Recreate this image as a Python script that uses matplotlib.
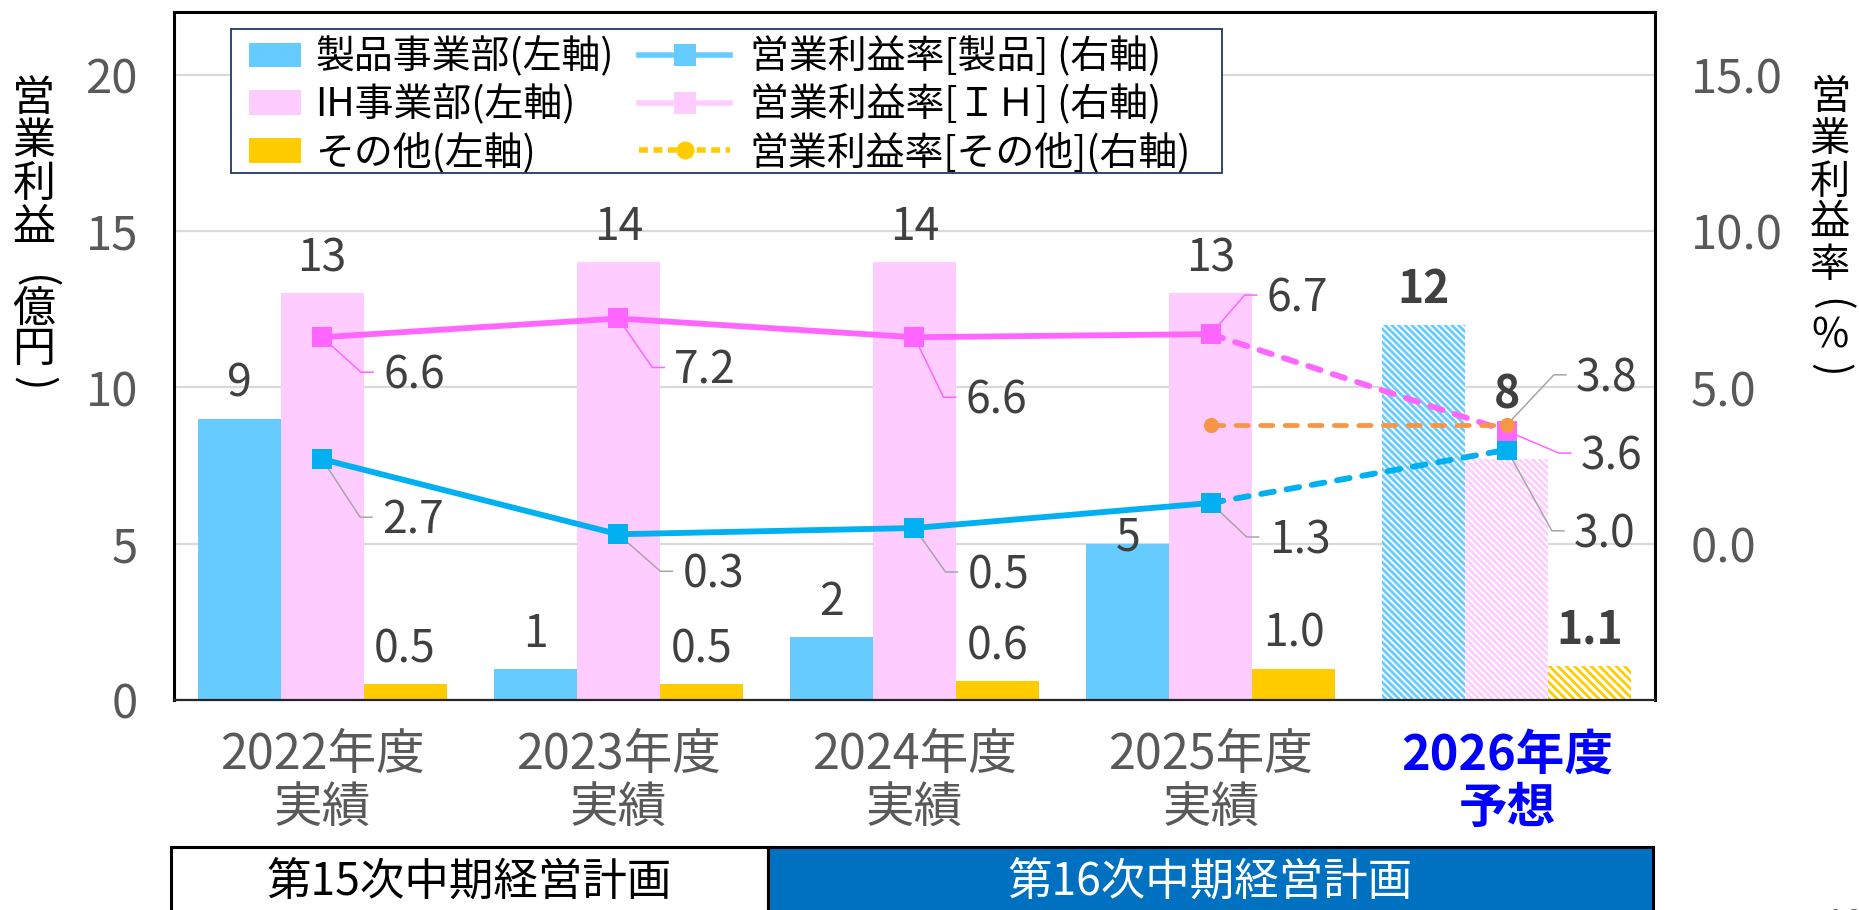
import numpy as np
import matplotlib
matplotlib.use("Agg")
import matplotlib.pyplot as plt
from matplotlib.patches import Patch, Rectangle
from matplotlib.lines import Line2D

plt.rcParams['font.family'] = ['Noto Sans CJK JP', 'DejaVu Sans']
plt.rcParams['hatch.linewidth'] = 2.0

# ---------------- data ----------------
years = ['2022年度\n実績', '2023年度\n実績', '2024年度\n実績', '2025年度\n実績', '2026年度\n予想']
seihin_profit = [9, 1, 2, 5, 12]
ih_profit = [13, 14, 14, 13, 7.7]
other_profit = [0.5, 0.5, 0.6, 1.0, 1.1]
seihin_rate = [2.7, 0.3, 0.5, 1.3, 3.0]
ih_rate = [6.6, 7.2, 6.6, 6.7, 3.6]
other_rate = [np.nan, np.nan, np.nan, 3.8, 3.8]
left_ticks = [0, 5, 10, 15, 20]
right_ticks = [0, 5, 10, 15]
bar_legend_labels = ['製品事業部(左軸)', 'IH事業部(左軸)', 'その他(左軸)']
line_legend_labels = ['営業利益率[製品] (右軸)', '営業利益率[ＩＨ] (右軸)', '営業利益率[その他](右軸)']
left_title = '営業利益(億円)'
right_title = '営業利益率(%)'
plan_labels = ['第15次中期経営計画', '第16次中期経営計画']

# ---------------- style ----------------
W, H, DPI = 1859, 910, 100
bar_colors = ['#66CCFF', '#FFCCFF', '#FFCC00']
line_colors = ['#00B0F0', '#FF66FF', '#F79646']
leader_colors = ['#A6A6A6', '#FF66FF', '#A6A6A6']
txt_col = '#404040'
tick_col = '#595959'
forecast = 4
bw = 0.28
bar_lab_off = [[22, 22, 22, -7, 22], [22, 22, 22, 22, 51], [22, 22, 22, 22, 22]]
seihin_off = [(60, 58), (64, 37), (53, 44), (58, 34), (67, 81)]
ih_off = [(61, 35), (56, 49), (51, 60), (56, -39), (74, 22)]
other_off = [None, None, None, None, (69, -50)]
left_title_y = [99, 142, 185, 228, 282, 310, 350, 383]
right_title_y = [98, 140, 182, 223, 265, 305, 336, 370]

fig = plt.figure(figsize=(W / DPI, H / DPI), dpi=DPI)
ax = fig.add_axes([174 / W, 1 - 700 / H, (1655 - 174) / W, (700 - 12) / H])
ax2 = ax.twinx()

x = np.arange(len(years))
ax.set_xlim(-0.5, len(years) - 0.5)
ax.set_ylim(0, 22)
ax2.set_ylim(-5, 17)

# ---------------- bars ----------------
series = [seihin_profit, ih_profit, other_profit]
hatches = ['\\' * 5, '\\' * 5, '\\' * 4]
for si, vals in enumerate(series):
    xs = x + (si - 1) * bw
    for i, v in enumerate(vals):
        if i == forecast:
            ax.bar(xs[i], v, bw, facecolor='white', edgecolor=bar_colors[si],
                   hatch=hatches[si], linewidth=0, zorder=2)
        else:
            ax.bar(xs[i], v, bw, color=bar_colors[si], linewidth=0, zorder=2)
        lab = f'{v:.0f}' if si < 2 else f'{v:.1f}'
        ax.annotate(lab, xy=(xs[i], v), xytext=(0, bar_lab_off[si][i]),
                    textcoords='offset pixels', ha='center', va='baseline',
                    fontsize=32, color=txt_col,
                    fontweight='bold' if i == forecast else 'normal', zorder=6)

# ---------------- grid / axes ----------------
ax.set_yticks(left_ticks)
ax.yaxis.grid(True, color='#D9D9D9', linewidth=1.6)
ax.set_axisbelow(True)
ax.set_xticks(x)
ax.set_xticklabels(years, fontsize=35, color=tick_col, linespacing=1.12)
tl = ax.get_xticklabels()[forecast]
tl.set_color('#0000FF')
tl.set_fontweight('bold')
ax.tick_params(axis='x', length=0, pad=22)
ax.tick_params(axis='y', length=0, pad=26, labelsize=34, labelcolor=tick_col)
ax2.set_yticks(right_ticks)
ax2.set_yticklabels([f'{t:.1f}' for t in right_ticks])
ax2.tick_params(axis='y', length=0, pad=26, labelsize=34, labelcolor=tick_col)
for a in (ax, ax2):
    for s in a.spines.values():
        s.set_visible(False)
for s in ['left', 'right', 'top']:
    ax2.spines[s].set_visible(True)
    ax2.spines[s].set_color('black')
    ax2.spines[s].set_linewidth(2.2)
ax2.spines['bottom'].set_visible(True)
ax2.spines['bottom'].set_color('#262626')
ax2.spines['bottom'].set_linewidth(1.6)

# ---------------- lines ----------------
rates = [seihin_rate, ih_rate, other_rate]
markers = ['s', 's', 'o']
msizes = [15, 15, 11]
for ri, r in enumerate(rates):
    r = np.array(r, dtype=float)
    c = line_colors[ri]
    if ri < 2:
        ax2.plot(x[:forecast], r[:forecast], color=c, lw=4.2, marker=markers[ri],
                 ms=msizes[ri], mew=0, zorder=4 + ri * 0.1, solid_capstyle='round')
    ax2.plot(x[forecast - 1:], r[forecast - 1:], color=c, lw=4.2 if ri < 2 else 3.4,
             ls=(0, (2.2, 2.2)) if ri < 2 else (0, (2.6, 2.6)),
             dash_capstyle='round', zorder=4 + ri * 0.1)
    if ri == 2:
        ax2.plot(x[forecast - 1:], r[forecast - 1:], ls='none', marker='o',
                 ms=msizes[ri], mew=0, color=c, zorder=4.3)
    else:
        ax2.plot([x[forecast]], [r[forecast]], ls='none', marker=markers[ri],
                 ms=msizes[ri], mew=0, color=c, zorder=4 + ri * 0.1)

# ---------------- rate labels with leaders ----------------
fs_lab = 32
cap_half = 0.365 * fs_lab * DPI / 72
inv = ax2.transData.inverted()
for ri, (r, offs) in enumerate(zip(rates, [seihin_off, ih_off, other_off])):
    for i, v in enumerate(r):
        off = offs[i]
        if off is None or np.isnan(v):
            continue
        dx, dy = off
        p = ax2.transData.transform((x[i], v))
        verts = np.array([p, p + [dx - 22, -dy], p + [dx - 10, -dy]])
        dv = inv.transform(verts)
        ax2.plot(dv[:, 0], dv[:, 1], color=leader_colors[ri], lw=1.1, zorder=3.9)
        ax2.annotate(f'{v:.1f}', xy=(x[i], v), xytext=(dx, -dy - cap_half),
                     textcoords='offset pixels', ha='left', va='baseline',
                     fontsize=fs_lab, color=txt_col, zorder=6)

# ---------------- legend ----------------
fig.add_artist(Rectangle((231 / W, 1 - 173 / H), (1222 - 231) / W, (173 - 29) / H,
                         transform=fig.transFigure, facecolor='white',
                         edgecolor='#203864', lw=1.3, zorder=4))
h1 = [Patch(facecolor=c, edgecolor='none') for c in bar_colors]
leg1 = fig.legend(h1, bar_legend_labels, loc='upper left',
                  bbox_to_anchor=(249 / W, 1 - 37 / H), frameon=False, fontsize=28,
                  handlelength=1.34, handleheight=0.6, handletextpad=0.36,
                  labelspacing=0.18, borderpad=0, borderaxespad=0)
leg1.set_zorder(5)
h2 = [Line2D([], [], color='#66CCFF', lw=4, marker='s', ms=16, mew=0),
      Line2D([], [], color='#FFCCFF', lw=4, marker='s', ms=16, mew=0),
      Line2D([], [], color='#FFCC00', lw=4, ls=(0, (1.6, 1.0)), marker='o', ms=13, mew=0)]
leg2 = fig.legend(h2, line_legend_labels, loc='upper left',
                  bbox_to_anchor=(639 / W, 1 - 37 / H), frameon=False, fontsize=28,
                  handlelength=2.34, handletextpad=0.51,
                  labelspacing=0.18, borderpad=0, borderaxespad=0)
leg2.set_zorder(5)
for t in list(leg1.get_texts()) + list(leg2.get_texts()):
    t.set_color('black')

# ---------------- vertical axis titles (upright characters) ----------------
def vertical_title(text, xc, ys, fs):
    for ch, yc in zip(text, ys):
        rot = 270 if ch in '()' else 0
        fig.text(xc / W, 1 - yc / H, ch, ha='center', va='center', rotation=rot,
                 rotation_mode='anchor', fontsize=fs, color='black')

vertical_title(left_title, 34, left_title_y, 31)
vertical_title(right_title, 1830, right_title_y, 29)

# ---------------- plan boxes ----------------
fig.add_artist(Rectangle((171 / W, 1 - 925 / H), (768 - 171) / W, (925 - 847) / H,
                         transform=fig.transFigure, facecolor='white', edgecolor='black',
                         lw=2.2, zorder=3))
fig.add_artist(Rectangle((768 / W, 1 - 925 / H), (1653 - 768) / W, (925 - 847) / H,
                         transform=fig.transFigure, facecolor='#0070C0', edgecolor='black',
                         lw=2.2, zorder=3))
fig.text((171 + 768) / 2 / W, 1 - 883 / H, plan_labels[0], ha='center', va='center',
         fontsize=32, color='black', zorder=4)
fig.text((768 + 1653) / 2 / W, 1 - 883 / H, plan_labels[1], ha='center', va='center',
         fontsize=32, color='white', zorder=4)
fig.text(1845 / W, 1 - 925 / H, '10', ha='center', va='center', fontsize=26, color=tick_col)

fig.savefig('out.png', dpi=DPI)
